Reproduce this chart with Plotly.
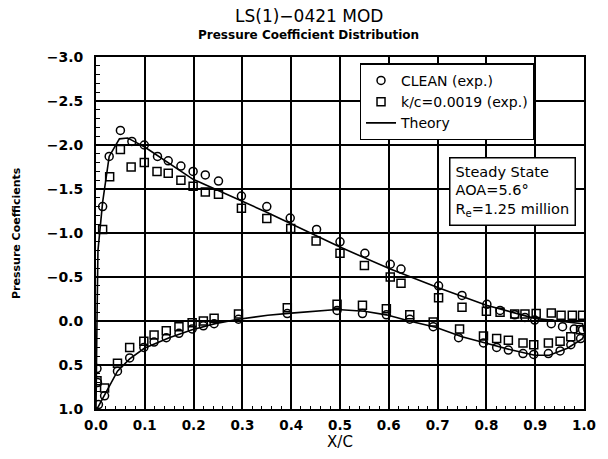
import plotly.graph_objects as go

# ---- data ----
clean_x = [0.0136, 0.027, 0.050, 0.0735, 0.099, 0.126, 0.148, 0.174, 0.199, 0.224, 0.251, 0.298,
           0.350, 0.398, 0.452, 0.500, 0.551, 0.603, 0.625, 0.702, 0.750, 0.801, 0.828, 0.858,
           0.879, 0.899, 0.933, 0.956, 0.980, 0.997,
           0.002, 0.003, 0.005, 0.0176, 0.044, 0.069, 0.098, 0.119, 0.144, 0.170, 0.197, 0.220,
           0.242, 0.292, 0.392, 0.494, 0.546, 0.595, 0.643, 0.691, 0.743, 0.794, 0.821, 0.845,
           0.875, 0.897, 0.927, 0.951, 0.973, 0.993]
clean_cp = [-1.30, -1.87, -2.165, -2.04, -2.00, -1.87, -1.82, -1.76, -1.70, -1.66, -1.59, -1.42,
            -1.30, -1.17, -1.04, -0.90, -0.77, -0.645, -0.59, -0.40, -0.29, -0.19, -0.12, -0.07,
            -0.04, -0.01, 0.03, 0.065, 0.09, 0.10,
            0.54, 0.70, 0.95, 0.85, 0.57, 0.42, 0.30, 0.24, 0.19, 0.14, 0.09, 0.055,
            0.03, -0.02, -0.085, -0.12, -0.085, -0.07, -0.02, 0.065, 0.19, 0.25, 0.30, 0.33,
            0.37, 0.38, 0.37, 0.34, 0.27, 0.20]

rough_x = [0.0136, 0.028, 0.050, 0.072, 0.099, 0.125, 0.148, 0.174, 0.199, 0.224, 0.251, 0.298,
           0.350, 0.399, 0.451, 0.500, 0.550, 0.603, 0.625, 0.702, 0.750, 0.800, 0.828, 0.858,
           0.879, 0.902, 0.933, 0.953, 0.976, 0.997,
           0.002, 0.0176, 0.044, 0.069, 0.098, 0.119, 0.144, 0.170, 0.197, 0.220, 0.242, 0.292,
           0.392, 0.494, 0.546, 0.595, 0.643, 0.691, 0.745, 0.794, 0.821, 0.845, 0.875, 0.897,
           0.927, 0.951, 0.973, 0.993]
rough_cp = [-1.04, -1.64, -1.95, -1.75, -1.80, -1.70, -1.68, -1.60, -1.53, -1.465, -1.44, -1.28,
            -1.165, -1.05, -0.91, -0.77, -0.63, -0.50, -0.43, -0.265, -0.155, -0.11, -0.10, -0.08,
            -0.08, -0.085, -0.09, -0.065, -0.065, -0.065,
            0.68, 0.76, 0.48, 0.30, 0.23, 0.16, 0.11, 0.065, 0.02, 0.0, -0.03, -0.08,
            -0.15, -0.19, -0.18, -0.14, -0.07, 0.01, 0.09, 0.17, 0.20, 0.22, 0.25, 0.27,
            0.25, 0.23, 0.18, 0.10]

theory_x = [1.0, 0.997, 0.899, 0.80, 0.703, 0.603, 0.50, 0.352, 0.199, 0.099, 0.075, 0.065,
            0.048, 0.027, 0.0136, 0.004, 0.002, 0.0,
            0.003, 0.018, 0.044, 0.069, 0.099, 0.150, 0.197, 0.244, 0.292, 0.352, 0.400,
            0.494, 0.550, 0.595, 0.642, 0.696, 0.750, 0.798, 0.852, 0.899, 0.929, 0.966,
            0.997, 1.0]
theory_cp = [0.12, 0.03, -0.03, -0.18, -0.375, -0.59, -0.84, -1.23, -1.61, -1.98, -2.05, -2.08,
             -2.07, -1.87, -1.35, -0.80, 0.0, 1.0,
             0.99, 0.84, 0.57, 0.43, 0.31, 0.19, 0.10, 0.03, -0.02, -0.065, -0.09,
             -0.13, -0.11, -0.07, 0.0, 0.07, 0.18, 0.25, 0.33, 0.39, 0.39, 0.31,
             0.20, 0.16]

x_ticks = [0.0, 0.1, 0.2, 0.3, 0.4, 0.5, 0.6, 0.7, 0.8, 0.9, 1.0]
y_ticks = [-3.0, -2.5, -2.0, -1.5, -1.0, -0.5, 0.0, 0.5, 1.0]

FONT = "DejaVu Sans"

fig = go.Figure()
fig.add_trace(go.Scatter(x=clean_x, y=clean_cp, mode="markers", name="CLEAN (exp.)",
                         marker=dict(symbol="circle-open", size=8, color="black",
                                     line=dict(width=1.5, color="black"))))
fig.add_trace(go.Scatter(x=rough_x, y=rough_cp, mode="markers", name="k/c=0.0019 (exp.)",
                         marker=dict(symbol="square-open", size=8, color="black",
                                     line=dict(width=1.5, color="black"))))
fig.add_trace(go.Scatter(x=theory_x, y=theory_cp, mode="lines", name="Theory",
                         line=dict(color="black", width=1.6)))

axis_common = dict(showline=True, linecolor="black", linewidth=2, mirror=True,
                   showgrid=True, gridcolor="black", gridwidth=1.8,
                   ticks="inside", ticklen=5, tickcolor="black", tickwidth=1.5,
                   zeroline=False)

fig.update_xaxes(range=[0, 1], tickvals=x_ticks, tickformat=".1f",
                 minor=dict(dtick=0.02, ticks="inside", ticklen=3, tickcolor="black",
                            tickwidth=1, showgrid=False),
                 ticklabelstandoff=3,
                 tickfont=dict(family=FONT, size=13.5, color="black", weight="bold"),
                 title=dict(text="X/C", font=dict(family=FONT, size=15, color="black"),
                            standoff=3),
                 **axis_common)
fig.update_yaxes(range=[1.0, -3.0], tickvals=y_ticks, tickformat=".1f",
                 minor=dict(dtick=0.1, ticks="inside", ticklen=4, tickcolor="black",
                            tickwidth=1, showgrid=False),
                 ticklabelstandoff=8,
                 tickfont=dict(family=FONT, size=14, color="black", weight="bold"),
                 **axis_common)

fig.update_layout(
    width=608, height=459,
    margin=dict(l=96, r=18, t=57, b=48),
    paper_bgcolor="white", plot_bgcolor="white",
    showlegend=True,
    legend=dict(x=0.54, y=0.982, xanchor="left", yanchor="top",
                bgcolor="white", bordercolor="black", borderwidth=1.5,
                font=dict(family=FONT, size=14, color="black"),
                itemwidth=30, tracegroupgap=0),
    annotations=[
        dict(text="LS(1)\u22120421 MOD", xref="paper", yref="paper", x=0.436, y=1.0,
             yshift=41, xanchor="center", yanchor="middle", showarrow=False,
             font=dict(family=FONT, size=17, color="black")),
        dict(text="<b>Pressure Coefficient Distribution</b>", xref="paper", yref="paper",
             x=0.436, y=1.0, yshift=22, xanchor="center", yanchor="middle", showarrow=False,
             font=dict(family=FONT, size=12, color="black")),
        dict(text="<b>Pressure Coefficients</b>", xref="paper", yref="paper",
             x=-0.164, y=0.5, xanchor="center", yanchor="middle", textangle=-90,
             showarrow=False, font=dict(family=FONT, size=11, color="black")),
        dict(text="Steady State<br>AOA=5.6\u00b0<br>R<sub>e</sub>=1.25 million",
             xref="paper", yref="paper", x=0.723, y=0.715, xanchor="left", yanchor="top",
             align="left", showarrow=False, bgcolor="white", bordercolor="black",
             borderwidth=1.5, borderpad=5,
             font=dict(family=FONT, size=14.5, color="black")),
    ],
)

fig.write_html("out.html")
